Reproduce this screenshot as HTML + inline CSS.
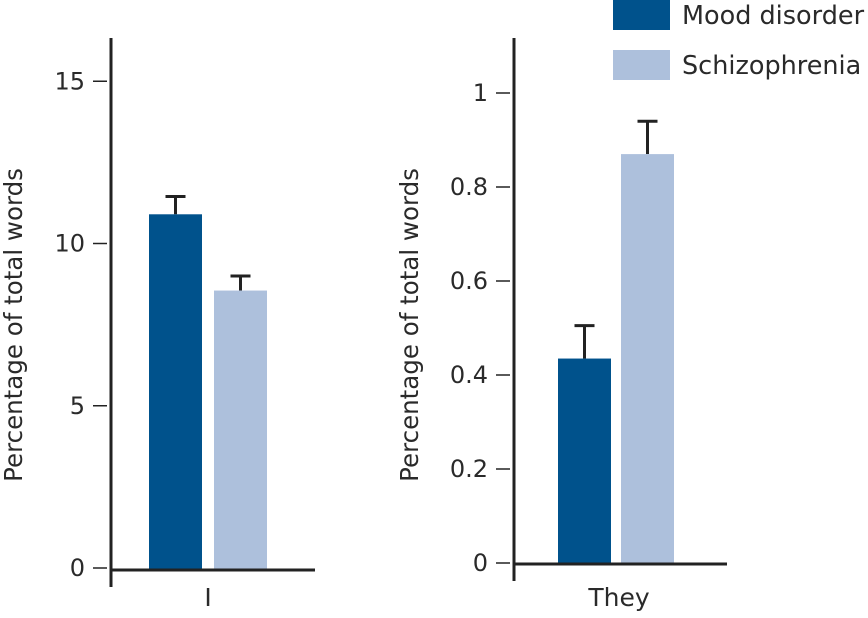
<!DOCTYPE html>
<html><head><meta charset="utf-8"><style>
body{margin:0;background:#fff}
svg text{font-family:"DejaVu Sans","Liberation Sans",sans-serif;fill:#2a2a2a}
</style></head><body>
<svg id="c" width="868" height="613"></svg>
<script>
const categories=["I","They"];
const series=["Mood disorder","Schizophrenia"];
const valuesI=[10.9,8.55];
const errorsI=[0.55,0.45];
const valuesThey=[0.435,0.87];
const errorsThey=[0.07,0.07];
const ticksI=[0,5,10,15];
const ticksThey=[0,0.2,0.4,0.6,0.8,1];
const colors=["#00528c","#adc0dc"];
const svg=document.getElementById('c');
const NS='http://www.w3.org/2000/svg';
function mk(t,a,p){const e=document.createElementNS(NS,t);for(const k in a)e.setAttribute(k,a[k]);(p||svg).appendChild(e);return e;}
function panel(cfg){
  const g=mk('g',{});
  
  
  const y=v=>cfg.y0-(v-cfg.min)*cfg.scale;
  const ax=mk('line',{x1:cfg.ax,y1:cfg.top,x2:cfg.ax,y2:cfg.axBot,stroke:'#222','stroke-width':3},g);
  
  const xa=mk('line',{x1:cfg.ax,y1:cfg.xaY,x2:cfg.xaEnd,y2:cfg.xaY,stroke:'#222','stroke-width':3},g);
  
  cfg.ticks.forEach(t=>{
    const l=mk('line',{x1:cfg.ax-18,x2:cfg.ax-4,y1:y(t),y2:y(t),stroke:'#222','stroke-width':1.5},g);
    
    const tx=mk('text',{x:cfg.ax-26,y:y(t)+8,'text-anchor':'end','font-size':24},g);
    tx.textContent=String(t);
    
  });
  cfg.values.forEach((v,i)=>{
    const x=cfg.bx[i];
    const et=y(v+cfg.errors[i]);
    const e1=mk('line',{x1:x+cfg.bw/2,x2:x+cfg.bw/2,y1:y(v),y2:et,stroke:'#222','stroke-width':3},g);
    
    const e2=mk('line',{x1:x+cfg.bw/2-10,x2:x+cfg.bw/2+10,y1:et,y2:et,stroke:'#222','stroke-width':3},g);
    
    const r=mk('rect',{x:x,y:y(v),width:cfg.bw,height:cfg.xaY-1.5-y(v),fill:colors[i]},g);
    
  });
  const cl=mk('text',{x:cfg.catX,y:606,'text-anchor':'middle','font-size':25},g);
  cl.textContent=cfg.cat;
  const yt=mk('text',{x:0,y:0,'text-anchor':'middle','font-size':24.5,transform:`translate(${cfg.ytx},${cfg.yty}) rotate(-90)`},g);
  yt.textContent='Percentage of total words';
}
panel({name:'panel-i',ax:111,top:38,axBot:587,xaY:570,xaEnd:315,y0:568,min:0,scale:32.45,ticks:ticksI,values:valuesI,errors:errorsI,bx:[149,214],bw:53,catX:208,cat:categories[0],ytx:22,yty:325});
panel({name:'panel-they',ax:514,top:38,axBot:581,xaY:564,xaEnd:727,y0:563,min:0,scale:470,ticks:ticksThey,values:valuesThey,errors:errorsThey,bx:[558,621],bw:53,catX:619,cat:categories[1],ytx:418,yty:325});
series.forEach((s,i)=>{
  const r=mk('rect',{x:613,y:i*50,width:57,height:30,fill:colors[i]});
  
  const t=mk('text',{x:682,y:i*50+24,'font-size':25.5});
  t.textContent=s;
});
</script>
</body></html>
